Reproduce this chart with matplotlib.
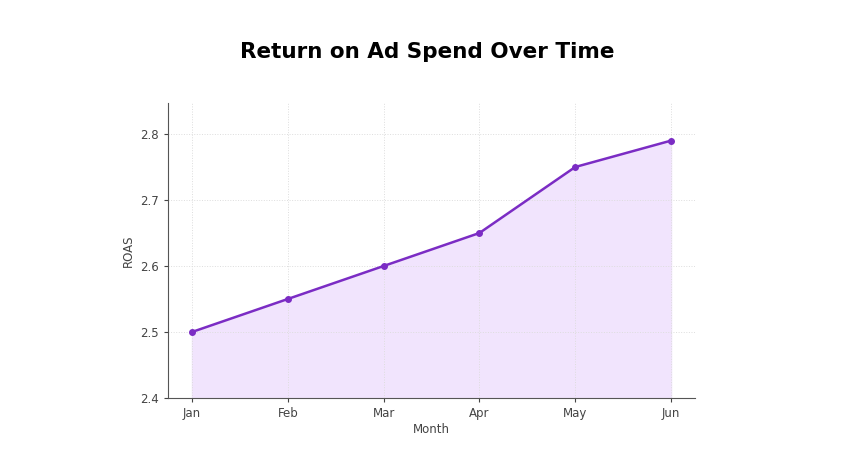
import matplotlib.pyplot as plt

months = ['Jan', 'Feb', 'Mar', 'Apr', 'May', 'Jun']
roas = [2.50, 2.55, 2.60, 2.65, 2.75, 2.79]

fig = plt.figure(figsize=(8.55, 4.55), dpi=100)
ax = fig.add_axes([168/855, 1-398/455, (695-168)/855, (398-103)/455])

x = list(range(len(months)))
ax.fill_between(x, roas, 2.4, color='#F1E4FD', zorder=1)
ax.plot(x, roas, color='#7B2CC4', linewidth=1.8, marker='o', markersize=4, zorder=3)

ax.set_xlim(-0.25, 5.25)
ax.set_ylim(2.4, 2.847)
ax.set_xticks(x)
ax.set_xticklabels(months)
ax.set_yticks([2.4, 2.5, 2.6, 2.7, 2.8])
ax.tick_params(labelsize=8.5, colors='#444444', length=3)
ax.set_xlabel('Month', fontsize=8.5, color='#444444', labelpad=2)
ax.set_ylabel('ROAS', fontsize=8.5, color='#444444')
ax.grid(True, color='#dddddd', linestyle=':', linewidth=0.7, zorder=0)
for s in ['top', 'right']:
    ax.spines[s].set_visible(False)
for s in ['left', 'bottom']:
    ax.spines[s].set_color('#555555')

fig.text(0.5, 1-52/455, 'Return on Ad Spend Over Time', ha='center', va='center',
         fontsize=15.5, fontweight='bold', family='DejaVu Sans')

fig.savefig('out.png', dpi=100)
